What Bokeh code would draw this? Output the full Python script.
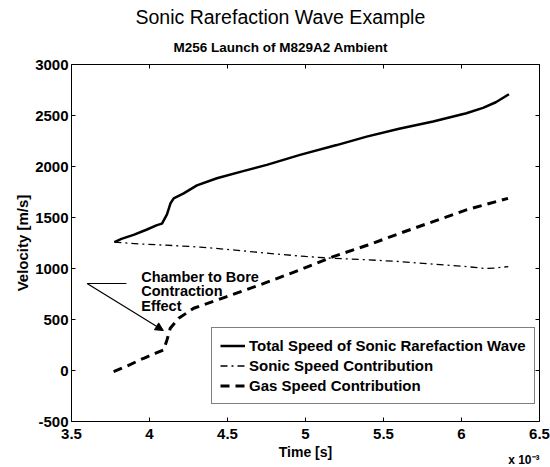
from bokeh.plotting import figure
from bokeh.models import (Range1d, LinearAxis, FixedTicker, CustomJSTickFormatter,
                          Label, Arrow, NormalHead, Title)
from bokeh.embed import file_html
from bokeh.resources import INLINE

# ---------------- data (time in units of 1e-3 s, velocity in m/s) ----------------
total_t = [3.775, 3.82, 3.898, 3.98, 4.048, 4.08, 4.112, 4.135, 4.155, 4.219, 4.304,
           4.432, 4.6, 4.752, 4.965, 5.2, 5.392, 5.6, 5.818, 6.031, 6.138, 6.22, 6.304]
total_v = [1258, 1290, 1330, 1380, 1425, 1440, 1530, 1640, 1688, 1737, 1815,
           1885, 1955, 2016, 2114, 2210, 2293, 2370, 2441, 2522, 2575, 2630, 2708]

sonic_t = [3.775, 3.95, 4.15, 4.325, 4.55, 4.752, 5.0, 5.178, 5.4, 5.605, 5.8,
           6.031, 6.15, 6.22, 6.3]
sonic_v = [1258, 1240, 1225, 1210, 1180, 1150, 1118, 1100, 1085, 1068, 1045,
           1019, 1000, 1005, 1019]

gas_t = [3.77, 3.85, 3.963, 4.04, 4.091, 4.112, 4.133, 4.187, 4.283, 4.496, 4.709,
         4.965, 5.178, 5.4, 5.605, 5.818, 6.031, 6.298]
gas_v = [-10, 40, 120, 170, 203, 300, 414, 512, 610, 725, 840,
         987, 1117, 1230, 1345, 1460, 1575, 1688]

x_ticks = [3.5, 4, 4.5, 5, 5.5, 6, 6.5]
y_ticks = [-500, 0, 500, 1000, 1500, 2000, 2500, 3000]

series_names = ["Total Speed of Sonic Rarefaction Wave",
                "Sonic Speed Contribution",
                "Gas Speed Contribution"]

title_text = "Sonic Rarefaction Wave Example"
subtitle_text = "M256 Launch of M829A2 Ambient"
x_label = "Time [s]"
x_multiplier = "x 10\u207b\u00b3"
y_label = "Velocity [m/s]"
note_lines = ["Chamber to Bore", "Contraction", "Effect"]

# annotation anchor (data coords)
note_x = 3.947
note_y = [921, 784, 637]
leader_x = [3.600, 3.852]
leader_y = [853, 853]
arrow_start = (3.600, 853)
arrow_end = (4.089, 392)

FONT = "Liberation Sans"

# ---------------- figure ----------------
p = figure(width=550, height=467, x_range=Range1d(3.5, 6.5), y_range=Range1d(-500, 3000),
           output_backend="svg", toolbar_location=None,
           min_border_left=71, min_border_right=11, min_border_top=64, min_border_bottom=46,
           x_axis_type=None, y_axis_type=None)
p.title.visible = False
p.outline_line_color = None
p.grid.visible = False
p.background_fill_color = "white"
p.border_fill_color = "white"

fmt = CustomJSTickFormatter(code="return tick.toString();")


def style_axis(ax, ticks, labels=True):
    ax.ticker = FixedTicker(ticks=ticks)
    ax.formatter = fmt
    ax.axis_line_color = "black"
    ax.axis_line_width = 1
    ax.major_tick_in = 4
    ax.major_tick_out = 0
    ax.major_tick_line_color = "black"
    ax.minor_tick_line_color = None
    ax.major_label_text_font = FONT
    ax.major_label_text_font_style = "bold"
    if labels:
        ax.major_label_text_font_size = "15px"
        ax.major_label_text_color = "black"
    else:
        ax.major_label_text_font_size = "0px"
        ax.major_label_text_color = None
        ax.major_label_standoff = 0


bx = LinearAxis(); style_axis(bx, x_ticks); bx.major_label_standoff = 7
bx.axis_label = x_label
bx.axis_label_text_font = FONT
bx.axis_label_text_font_style = "bold"
bx.axis_label_text_font_size = "14px"
bx.axis_label_text_color = "black"
bx.axis_label_standoff = 2

lx = LinearAxis(); style_axis(lx, y_ticks); lx.major_label_standoff = 3
lx.axis_label = y_label
lx.axis_label_text_font = FONT
lx.axis_label_text_font_style = "bold"
lx.axis_label_text_font_size = "15px"
lx.axis_label_text_color = "black"
lx.axis_label_standoff = 1

tx = LinearAxis(); style_axis(tx, x_ticks, labels=False)
rx = LinearAxis(); style_axis(rx, y_ticks, labels=False)
p.add_layout(bx, "below")
p.add_layout(lx, "left")
p.add_layout(tx, "above")
p.add_layout(rx, "right")

# titles (first added is closest to the plot)
p.add_layout(Title(text=subtitle_text, align="left", offset=102, text_font=FONT,
                   text_font_style="bold", text_font_size="13.5px", text_color="black",
                   standoff=20), "above")
p.add_layout(Title(text=title_text, align="left", offset=64, text_font=FONT,
                   text_font_style="normal", text_font_size="19.5px", text_color="black",
                   standoff=-1), "above")
p.add_layout(Title(text=x_multiplier, align="right", vertical_align="top", text_font=FONT,
                   text_font_style="bold", text_font_size="12px", text_color="black",
                   standoff=-20), "below")

# ---------------- series ----------------
p.line(total_t, total_v, line_color="black", line_width=2.5, legend_label=series_names[0])
p.line(sonic_t, sonic_v, line_color="black", line_width=1.3, line_dash="7 4 2 4",
       legend_label=series_names[1])
p.line(gas_t, gas_v, line_color="black", line_width=3, line_dash="9 6",
       legend_label=series_names[2])

lg = p.legend[0]
lg.location = (140, 17)
lg.border_line_color = "black"
lg.border_line_width = 1
lg.background_fill_color = "white"
lg.background_fill_alpha = 1
lg.label_text_font = FONT
lg.label_text_font_style = "bold"
lg.label_text_font_size = "15px"
lg.label_text_color = "black"
lg.glyph_width = 25
lg.glyph_height = 19
lg.label_height = 19
lg.label_standoff = 4
lg.padding = 8
lg.spacing = 1
lg.margin = 0

# ---------------- annotation ----------------
p.line(leader_x, leader_y, line_color="black", line_width=1.2)
p.add_layout(Arrow(end=NormalHead(size=8, fill_color="black", line_color="black"),
                   x_start=arrow_start[0], y_start=arrow_start[1],
                   x_end=arrow_end[0], y_end=arrow_end[1],
                   line_color="black", line_width=1.2))
for txt, yy in zip(note_lines, note_y):
    p.add_layout(Label(x=note_x, y=yy, text=txt, text_font=FONT, text_font_style="bold",
                       text_font_size="14.5px", text_color="black",
                       text_align="left", text_baseline="alphabetic"))

open("out.html", "w").write(file_html(p, INLINE))
